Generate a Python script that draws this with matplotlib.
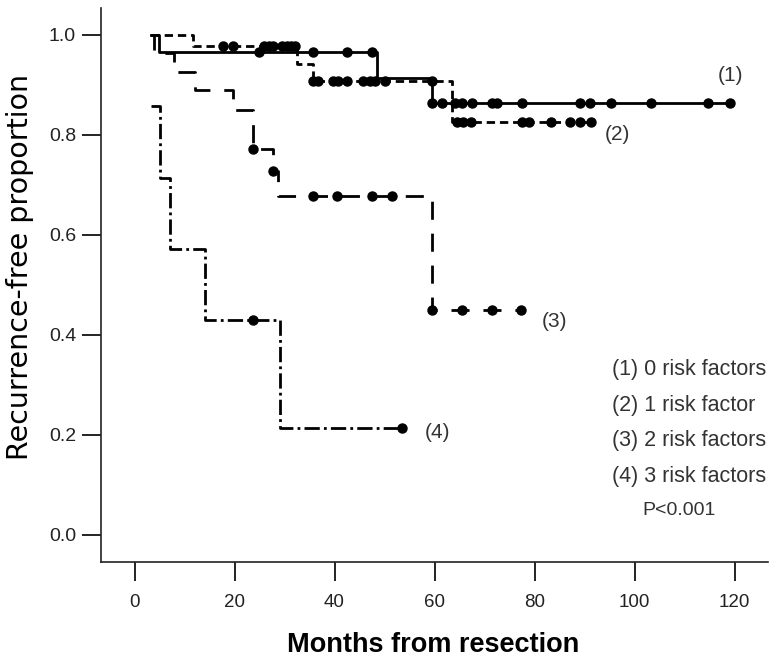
import matplotlib
matplotlib.use('Agg')
import matplotlib.pyplot as plt

# Kaplan-Meier step curves (months, proportion)
# each curve: step times, value after each step, censor marks
t1 = [3.3, 4.8, 48.4, 59.4, 119.0]
s1 = [1.0, 0.965, 0.913, 0.863, 0.863]
c1_t = [24.8, 35.6, 42.5, 47.5,
        59.4, 61.4, 64.1, 65.4, 67.4, 71.4, 72.4, 77.4, 89.1, 91.1, 95.2, 103.2, 114.7, 119.0]
c1_s = [0.965, 0.965, 0.965, 0.965,
        0.863, 0.863, 0.863, 0.863, 0.863, 0.863, 0.863, 0.863, 0.863, 0.863, 0.863, 0.863, 0.863, 0.863]

t2 = [3.3, 11.7, 32.4, 35.6, 63.4, 91.2]
s2 = [1.0, 0.977, 0.941, 0.907, 0.825, 0.825]
c2_t = [17.7, 19.7, 25.8, 26.8, 27.6, 29.4, 30.4, 31.2, 32.0,
        35.7, 36.7, 39.7, 40.7, 42.5, 45.7, 47.1, 48.1, 50.1, 59.4,
        64.5, 65.6, 67.3, 77.4, 78.9, 83.2, 87.1, 89.0, 91.2]
c2_s = [0.977] * 9 + [0.907] * 10 + [0.825] * 9

t3 = [3.3, 3.8, 7.8, 12.1, 19.7, 23.7, 27.7, 28.7, 59.4, 77.3]
s3 = [1.0, 0.963, 0.926, 0.889, 0.85, 0.771, 0.727, 0.677, 0.45, 0.45]
c3_t = [23.7, 27.7, 35.7, 40.5, 47.5, 51.5, 59.4, 65.4, 71.4, 77.3]
c3_s = [0.771, 0.727, 0.677, 0.677, 0.677, 0.677, 0.45, 0.45, 0.45, 0.45]

t4 = [3.2, 5.1, 7.1, 14.1, 29.1, 53.4]
s4 = [0.857, 0.714, 0.571, 0.429, 0.214, 0.214]
c4_t = [23.7, 53.4]
c4_s = [0.429, 0.214]

legend_lines = ['(1) 0 risk factors', '(2) 1 risk factor', '(3) 2 risk factors', '(4) 3 risk factors']

plt.rcParams['lines.scale_dashes'] = False
regular = ['Liberation Sans', 'DejaVu Sans']

fig = plt.figure(figsize=(7.74, 6.62), dpi=100)
ax = fig.add_axes([0.1305, 0.1511, 0.8618, 0.8369])

styles = ['-', (0, (6, 3.5)), (0, (13, 10)), (0, (11, 3, 2, 3))]
curves = [(t1, s1, c1_t, c1_s), (t2, s2, c2_t, c2_s), (t3, s3, c3_t, c3_s), (t4, s4, c4_t, c4_s)]
for (t, s, ct, cs), ls in zip(curves, styles):
    ax.step(t, s, where='post', color='black', lw=2.0, linestyle=ls)
    ax.plot(ct, cs, 'o', color='black', ms=6.5, linestyle='none')

# curve labels
ax.text(119.1, 0.918, '(1)', ha='center', va='center', fontsize=15, family=regular, color='#333333')
ax.text(96.5, 0.80, '(2)', ha='center', va='center', fontsize=15, family=regular, color='#333333')
ax.text(83.9, 0.426, '(3)', ha='center', va='center', fontsize=15, family=regular, color='#333333')
ax.text(60.5, 0.204, '(4)', ha='center', va='center', fontsize=15, family=regular, color='#333333')

# text legend
for i, line in enumerate(legend_lines):
    ax.text(95.5, 0.33 - i * 0.071, line, ha='left', va='center', fontsize=15.5,
            family=regular, color='#333333')
ax.text(108.9, 0.048, 'P<0.001', ha='center', va='center', fontsize=14, family=regular, color='#333333')

ax.set_xlim(-6.7, 126.7)
ax.set_ylim(-0.054, 1.054)
ax.set_xticks([0, 20, 40, 60, 80, 100, 120])
ax.set_yticks([0.0, 0.2, 0.4, 0.6, 0.8, 1.0])
ax.set_yticklabels(['0.0', '0.2', '0.4', '0.6', '0.8', '1.0'])

for side in ['top', 'right']:
    ax.spines[side].set_visible(False)
for side in ['left', 'bottom']:
    ax.spines[side].set_linewidth(1.2)
    ax.spines[side].set_color('#222222')

ax.tick_params(axis='both', direction='out', length=14, width=1.4, color='#222222')
ax.tick_params(axis='y', pad=4)
ax.tick_params(axis='x', pad=9)
for lbl in ax.get_yticklabels():
    lbl.set_fontfamily(regular)
    lbl.set_fontsize(14)
    lbl.set_color('#222222')
for lbl in ax.get_xticklabels():
    lbl.set_fontfamily(regular)
    lbl.set_fontsize(13.5)
    lbl.set_color('#222222')

fig.text(0.026, 0.597, 'Recurrence-free proportion', rotation=90, ha='center', va='center',
         fontsize=20.5, family=['DejaVu Sans'], color='black')
fig.text(0.559, 0.0257, 'Months from resection', ha='center', va='center',
         fontsize=19.5, fontweight='bold', family=regular, color='black')

fig.savefig('out.png', dpi=100)
